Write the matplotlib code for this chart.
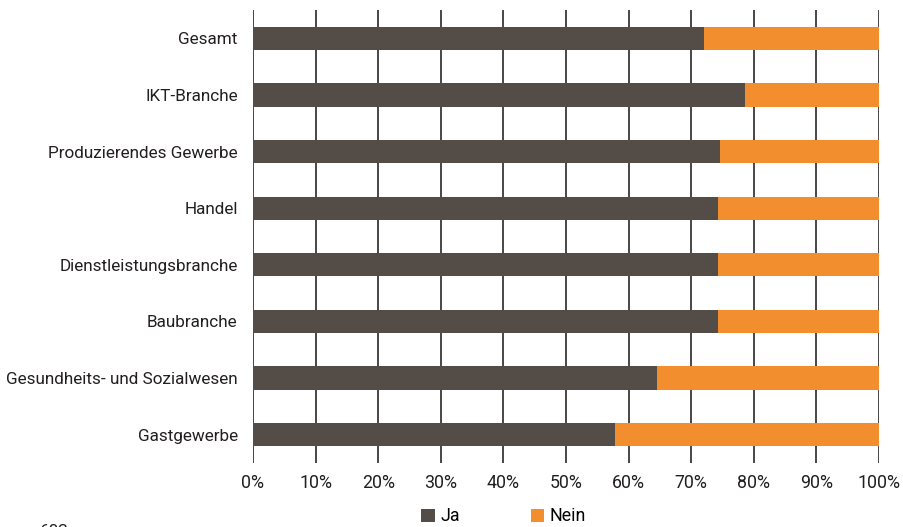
import numpy as np
import matplotlib.pyplot as plt

# data
categories = ['Gesamt', 'IKT-Branche', 'Produzierendes Gewerbe', 'Handel',
              'Dienstleistungsbranche', 'Baubranche',
              'Gesundheits- und Sozialwesen', 'Gastgewerbe']
ja = [72.0, 78.6, 74.6, 74.3, 74.3, 74.3, 64.5, 57.8]
nein = [100 - v for v in ja]
xticks = np.arange(0, 101, 10)
xticklabels = [f'{t}%' for t in xticks]

plt.rcParams['font.family'] = ['Roboto', 'DejaVu Sans']
fs = 12.3

dark = '#544c47'
orange = '#f28e2e'
txt = '#231f20'

fig = plt.figure(figsize=(9.04, 5.27), dpi=100)
ax = fig.add_axes([253 / 904, 1 - 463 / 527, 626 / 904, 453 / 527])

y = np.arange(len(categories))
bar_h = 0.41
ax.barh(y, ja, bar_h, color=dark, label='Ja', zorder=3)
ax.barh(y, nein, bar_h, left=ja, color=orange, label='Nein', zorder=3)

ax.set_xlim(0, 100)
ax.set_ylim(7.5, -0.5)
ax.set_yticks(y)
ax.set_yticklabels(categories, fontsize=fs, color=txt)
ax.set_xticks(xticks)
ax.set_xticklabels(xticklabels, fontsize=fs + 0.5, color=txt)
ax.tick_params(length=0, axis='y', pad=11)
ax.tick_params(length=0, axis='x', pad=8)
for t in xticks:
    ax.axvline(t, color='#4a4542', lw=1.4, zorder=1)
for s in ax.spines.values():
    s.set_visible(False)

fig.legend(loc='center', bbox_to_anchor=(0.557, 0.02), ncol=2, frameon=False,
           fontsize=fs + 0.5, handlelength=0.75, handleheight=0.75,
           handletextpad=0.3, columnspacing=4.0)

fig.text(40 / 904, -0.008, '603', fontsize=fs, color=txt, va='center')

fig.savefig('out.png', dpi=100)
